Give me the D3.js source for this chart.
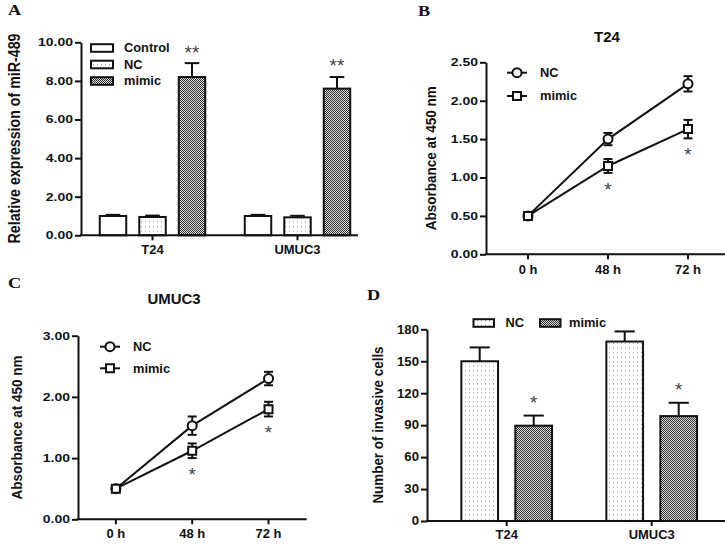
<!DOCTYPE html>
<html><head><meta charset="utf-8">
<script src="https://cdn.jsdelivr.net/npm/d3@7/dist/d3.min.js"></script>
<style>
html,body{margin:0;padding:0;background:#fff;}
svg{display:block;}
text{font-family:"Liberation Sans",Arial,sans-serif;fill:#111;}
</style></head>
<body>
<script>
// ---------- DATA ----------
// Panel A
const groupsA = ["T24", "UMUC3"];
const seriesA = ["Control", "NC", "mimic"];
const controlA = [1.00, 1.00];
const controlAErr = [0.06, 0.06];
const ncA = [0.95, 0.93];
const ncAErr = [0.07, 0.08];
const mimicA = [8.20, 7.60];
const mimicAErr = [0.72, 0.60];
const yTicksA = [0, 2, 4, 6, 8, 10];
const starsA = ["**", "**"];

// Panels B & C
const timePoints = ["0 h", "48 h", "72 h"];
const ncB = [0.50, 1.50, 2.22];
const ncBErr = [0.02, 0.08, 0.10];
const mimicB = [0.50, 1.15, 1.63];
const mimicBErr = [0.02, 0.09, 0.12];
const yTicksB = [0, 0.5, 1.0, 1.5, 2.0, 2.5];
const starsB = ["", "*", "*"];

const ncC = [0.50, 1.53, 2.30];
const ncCErr = [0.02, 0.15, 0.11];
const mimicC = [0.50, 1.12, 1.80];
const mimicCErr = [0.02, 0.12, 0.12];
const yTicksC = [0, 1, 2, 3];
const starsC = ["", "*", "*"];

// Panel D
const groupsD = ["T24", "UMUC3"];
const seriesD = ["NC", "mimic"];
const ncD = [150, 168.5];
const ncDErr = [13, 9.5];
const mimicD = [89.5, 98.5];
const mimicDErr = [9.5, 12.5];
const yTicksD = [0, 30, 60, 90, 120, 150, 180];
const starsD = ["*", "*"];

// ---------- SVG ----------
const W = 725, H = 549;
const svg = d3.select("body").append("svg").attr("width", W).attr("height", H);
const defs = svg.append("defs");

const dots = defs.append("pattern").attr("id", "dots").attr("patternUnits", "userSpaceOnUse")
  .attr("width", 4).attr("height", 4.5);
dots.append("rect").attr("width", 4).attr("height", 4.5).attr("fill", "#fff");
dots.append("rect").attr("x", 1).attr("y", 1).attr("width", 1).attr("height", 1).attr("fill", "#8a8a8a");

const checker = defs.append("pattern").attr("id", "checker").attr("patternUnits", "userSpaceOnUse")
  .attr("width", 2).attr("height", 2);
checker.append("rect").attr("width", 2).attr("height", 2).attr("fill", "#dadada");
checker.append("rect").attr("x", 0).attr("y", 0).attr("width", 1).attr("height", 1).attr("fill", "#333");
checker.append("rect").attr("x", 1).attr("y", 1).attr("width", 1).attr("height", 1).attr("fill", "#333");

const fills = {Control: "#fff", NC: "url(#dots)", mimic: "url(#checker)"};

function stretchedText(g, x, y, txt, size, sx, anchor, weight) {
  return g.append("text")
    .attr("transform", `translate(${x},${y}) scale(${sx},1)`)
    .attr("text-anchor", anchor || "start")
    .style("font-size", size + "px")
    .style("font-weight", weight || "bold")
    .text(txt);
}
function panelLetter(x, y, t) {
  svg.append("text").attr("transform", `translate(${x},${y}) scale(1.22,1)`)
    .style("font-family", "'Liberation Serif','Times New Roman',serif")
    .style("font-weight", "bold").style("font-size", "15px").text(t);
}
function yTitle(x, y, t, size) {
  svg.append("text").attr("transform", `translate(${x},${y}) scale(1.15,1) rotate(-90)`)
    .attr("text-anchor", "middle").style("font-size", size + "px").style("font-weight", "bold").text(t);
}
function yAxis(x, scale, ticks, fmt, fs, sx) {
  const g = svg.append("g").attr("transform", `translate(${x},0)`)
    .call(d3.axisLeft(scale).tickValues(ticks).tickFormat(fmt).tickSize(6).tickSizeOuter(0));
  g.select(".domain").attr("stroke", "#111").attr("stroke-width", 2);
  g.selectAll(".tick line").attr("stroke", "#111").attr("stroke-width", 2);
  g.selectAll(".tick text").attr("x", null).attr("dy", null)
    .attr("transform", `translate(-8,0) scale(${sx},1)`)
    .attr("dominant-baseline", "central")
    .style("font-size", fs + "px").style("font-weight", "bold").attr("fill", "#111").attr("font-family", null);
  return g;
}
function xAxisLine(x0, x1, y) {
  svg.append("line").attr("x1", x0).attr("x2", x1).attr("y1", y).attr("y2", y)
    .attr("stroke", "#111").attr("stroke-width", 2);
}
function star(x, yCenter, t, size) {
  svg.append("text").attr("x", x).attr("y", yCenter + size * 0.55)
    .attr("text-anchor", "middle").style("font-size", size + "px")
    .style("font-weight", "normal").style("fill", "#444").text(t);
}

// ---------- PANEL A ----------
(function () {
  const x = d3.scaleBand().domain(groupsA).range([80, 370]);
  const xi = d3.scaleBand().domain(seriesA).range([-59.25, 59.25]).paddingInner(0.33).paddingOuter(0.165);
  const y = d3.scaleLinear().domain([0, 10]).range([235.3, 42.3]);
  const vals = {Control: controlA, NC: ncA, mimic: mimicA};
  const errs = {Control: controlAErr, NC: ncAErr, mimic: mimicAErr};
  const bw = xi.bandwidth();
  const cap = bw * 0.55;
  seriesA.forEach(s => {
    groupsA.forEach((gname, i) => {
      const cx = x(gname) + x.bandwidth() / 2 + xi(s) + bw / 2;
      const top = y(vals[s][i]);
      const et = y(vals[s][i] + errs[s][i]);
      svg.append("line").attr("x1", cx).attr("x2", cx).attr("y1", top).attr("y2", et).attr("stroke", "#111").attr("stroke-width", 2);
      svg.append("line").attr("x1", cx - cap / 2).attr("x2", cx + cap / 2).attr("y1", et).attr("y2", et).attr("stroke", "#111").attr("stroke-width", 2);
      svg.append("rect").attr("x", cx - bw / 2).attr("y", top).attr("width", bw).attr("height", y(0) - top)
        .attr("fill", fills[s]).attr("stroke", "#111").attr("stroke-width", 2);
    });
  });
  groupsA.forEach((gname, i) => {
    const cx = x(gname) + x.bandwidth() / 2 + xi("mimic") + bw / 2;
    star(cx, y(mimicA[i] + mimicAErr[i]) - 15, starsA[i], 19);
  });
  yAxis(81, y, yTicksA, d3.format(".2f"), 11, 1.27);
  xAxisLine(80, 358, y(0));
  groupsA.forEach(gname => {
    const cx = x(gname) + x.bandwidth() / 2;
    svg.append("line").attr("x1", cx).attr("x2", cx).attr("y1", y(0)).attr("y2", y(0) + 5).attr("stroke", "#111").attr("stroke-width", 2);
    stretchedText(svg, cx, 253.8, gname, 12, 1.08, "middle");
  });
  yTitle(20, 138.5, "Relative expression of miR-489", 14.2);
  // legend
  seriesA.forEach((s, i) => {
    const cy = 48 + i * 16.5;
    svg.append("rect").attr("x", 91).attr("y", cy - 3.8).attr("width", 22).attr("height", 7.6)
      .attr("fill", fills[s]).attr("stroke", "#111").attr("stroke-width", 2);
    stretchedText(svg, 124, cy + 4.4, s, 12, 1.07, "start");
  });
  panelLetter(8, 14.5, "A");
})();

// ---------- LINE PANELS ----------
function linePanel(o) {
  const x = d3.scalePoint().domain(timePoints).range(o.xr).padding(0.5);
  const y = d3.scaleLinear().domain(o.yd).range(o.yr);
  const line = d3.line().x((d, i) => x(timePoints[i])).y(d => y(d));
  const sets = [
    {v: o.nc, e: o.ncErr, sym: d3.symbolCircle, size: 64},
    {v: o.mimic, e: o.mimicErr, sym: d3.symbolSquare, size: 64}
  ];
  sets.forEach(s => {
    svg.append("path").datum(s.v).attr("d", line).attr("fill", "none").attr("stroke", "#111").attr("stroke-width", 2);
  });
  sets.forEach(s => {
    s.v.forEach((v, i) => {
      const cx = x(timePoints[i]);
      const y1 = y(v + s.e[i]), y2 = y(v - s.e[i]);
      svg.append("line").attr("x1", cx).attr("x2", cx).attr("y1", y1).attr("y2", y2).attr("stroke", "#111").attr("stroke-width", 2);
      [y1, y2].forEach(yy => svg.append("line").attr("x1", cx - 4.5).attr("x2", cx + 4.5).attr("y1", yy).attr("y2", yy).attr("stroke", "#111").attr("stroke-width", 2));
    });
  });
  sets.forEach(s => {
    s.v.forEach((v, i) => {
      svg.append("path").attr("d", d3.symbol().type(s.sym).size(s.size)())
        .attr("transform", `translate(${x(timePoints[i])},${y(v)})`)
        .attr("fill", "#fff").attr("stroke", "#111").attr("stroke-width", 2);
    });
  });
  o.stars.forEach((t, i) => {
    if (!t) return;
    star(x(timePoints[i]), y(o.mimic[i] - o.mimicErr[i]) + 12.5, t, 19);
  });
  yAxis(o.xAxis0, y, o.ticks, d3.format(".2f"), 11, 1.27);
  xAxisLine(o.xAxis0 - 1, o.xAxis1, y(0));
  timePoints.forEach(t => {
    const cx = x(t);
    svg.append("line").attr("x1", cx).attr("x2", cx).attr("y1", y(0)).attr("y2", y(0) + 5).attr("stroke", "#111").attr("stroke-width", 2);
    stretchedText(svg, cx, o.xLabelY, t, 12, 1.08, "middle");
  });
  stretchedText(svg, o.titleX, o.titleY, o.title, 14, 1.07, "middle");
  yTitle(o.yTitleX, (o.yr[0] + o.yr[1]) / 2, "Absorbance at 450 nm", 13.5);
  // legend
  ["NC", "mimic"].forEach((name, i) => {
    const cy = o.legY[i];
    svg.append("line").attr("x1", o.legX).attr("x2", o.legX + 20).attr("y1", cy).attr("y2", cy).attr("stroke", "#111").attr("stroke-width", 2);
    svg.append("path").attr("d", d3.symbol().type(sets[i].sym).size(sets[i].size)())
      .attr("transform", `translate(${o.legX + 10},${cy})`).attr("fill", "#fff").attr("stroke", "#111").attr("stroke-width", 2);
    stretchedText(svg, o.legX + 33, cy + 4.4, name, 12, 1.07, "start");
  });
}

linePanel({
  xr: [488, 728], yd: [0, 2.5], yr: [254.3, 62.3], nc: ncB, ncErr: ncBErr, mimic: mimicB, mimicErr: mimicBErr,
  ticks: yTicksB, stars: starsB, xAxis0: 486, xAxis1: 725, xLabelY: 274, title: "T24", titleX: 607, titleY: 42,
  yTitleX: 436, legX: 507, legY: [72.7, 96]
});
panelLetter(418, 15.5, "B");

linePanel({
  xr: [77.7, 306.7], yd: [0, 3], yr: [519.3, 335.7], nc: ncC, ncErr: ncCErr, mimic: mimicC, mimicErr: mimicCErr,
  ticks: yTicksC, stars: starsC, xAxis0: 78, xAxis1: 306.7, xLabelY: 537.8, title: "UMUC3", titleX: 174, titleY: 304,
  yTitleX: 22, legX: 100, legY: [346.7, 368.3]
});
panelLetter(8, 288.3, "C");

// ---------- PANEL D ----------
(function () {
  const x = d3.scaleBand().domain(groupsD).range([434.2, 724.2]);
  const xi = d3.scaleBand().domain(seriesD).range([-54, 54]).paddingInner(0.32).paddingOuter(0.16);
  const y = d3.scaleLinear().domain([0, 180]).range([521, 329.3]);
  const vals = {NC: ncD, mimic: mimicD};
  const errs = {NC: ncDErr, mimic: mimicDErr};
  const bw = xi.bandwidth();
  const cap = bw * 0.55;
  seriesD.forEach(s => {
    groupsD.forEach((gname, i) => {
      const cx = x(gname) + x.bandwidth() / 2 + xi(s) + bw / 2;
      const top = y(vals[s][i]);
      const et = y(vals[s][i] + errs[s][i]);
      svg.append("line").attr("x1", cx).attr("x2", cx).attr("y1", top).attr("y2", et).attr("stroke", "#111").attr("stroke-width", 2);
      svg.append("line").attr("x1", cx - cap / 2).attr("x2", cx + cap / 2).attr("y1", et).attr("y2", et).attr("stroke", "#111").attr("stroke-width", 2);
      svg.append("rect").attr("x", cx - bw / 2).attr("y", top).attr("width", bw).attr("height", y(0) - top)
        .attr("fill", fills[s]).attr("stroke", "#111").attr("stroke-width", 2);
    });
  });
  groupsD.forEach((gname, i) => {
    const cx = x(gname) + x.bandwidth() / 2 + xi("mimic") + bw / 2;
    star(cx, y(mimicD[i] + mimicDErr[i]) - 17, starsD[i], 19);
  });
  yAxis(427, y, yTicksD, d3.format("d"), 12, 1.1);
  xAxisLine(426, 725, y(0));
  groupsD.forEach(gname => {
    const cx = x(gname) + x.bandwidth() / 2;
    svg.append("line").attr("x1", cx).attr("x2", cx).attr("y1", y(0)).attr("y2", y(0) + 5).attr("stroke", "#111").attr("stroke-width", 2);
    stretchedText(svg, cx, 538.8, gname, 12, 1.08, "middle");
  });
  yTitle(383, 425, "Number of invasive cells", 13.4);
  // legend
  const leg = [{s: "NC", bx: 473.5, tx: 505.5}, {s: "mimic", bx: 540, tx: 569}];
  leg.forEach(l => {
    svg.append("rect").attr("x", l.bx).attr("y", 323 - 3.8).attr("width", 20.5).attr("height", 7.6)
      .attr("fill", fills[l.s]).attr("stroke", "#111").attr("stroke-width", 2);
    stretchedText(svg, l.tx, 327.4, l.s, 12, 1.07, "start");
  });
  panelLetter(367, 300, "D");
})();
</script>
</body></html>
